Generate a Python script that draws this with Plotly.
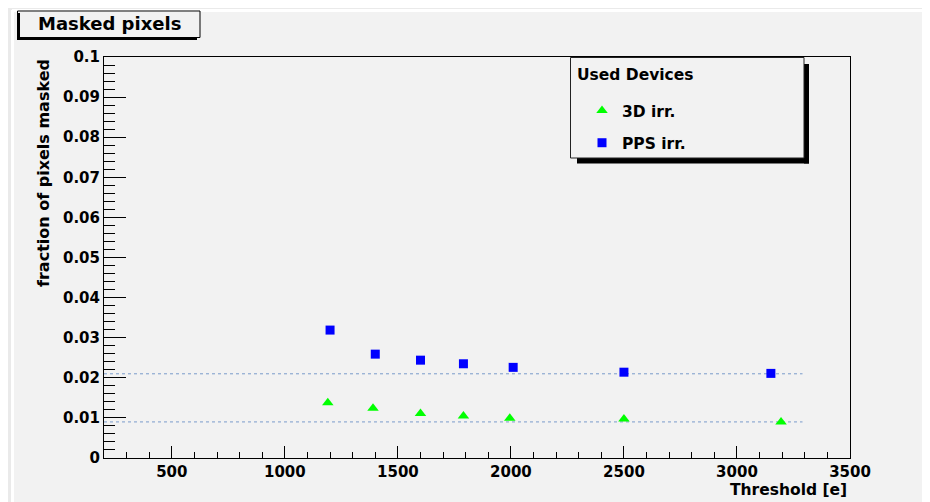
import plotly.graph_objects as go

# ---------------- data ----------------
pps_threshold = [1200, 1400, 1600, 1790, 2010, 2500, 3150]
pps_fraction = [0.0319, 0.0259, 0.0244, 0.0235, 0.0226, 0.0214, 0.0211]

d3_threshold = [1190, 1390, 1600, 1790, 1995, 2500, 3195]
d3_fraction = [0.0138, 0.0124, 0.0111, 0.0105, 0.0099, 0.0097, 0.0090]

fit_x = [200, 3290]
pps_fit_level = [0.0210, 0.0210]
d3_fit_level = [0.0090, 0.0090]

x_range = [200, 3500]
y_range = [0, 0.1]

# ---------------- geometry helpers (viewport pixels -> paper) ----------------
W, H = 930, 502          # browser window
OFF = 8                  # default page body margin
L, R, T, B = 104, 850, 57, 458   # plot frame in window pixels


def px(x):
    return (x - L) / (R - L)


def py(y):
    return (B - y) / (B - T)


FONT = "DejaVu Sans"
fig = go.Figure()

fig.add_trace(go.Scatter(x=fit_x, y=pps_fit_level, mode="lines",
                         line=dict(color="#7a9bcb", width=1, dash="dot"),
                         showlegend=False, hoverinfo="skip"))
fig.add_trace(go.Scatter(x=fit_x, y=d3_fit_level, mode="lines",
                         line=dict(color="#7a9bcb", width=1, dash="dot"),
                         showlegend=False, hoverinfo="skip"))

fig.add_trace(go.Scatter(x=d3_threshold, y=d3_fraction, mode="markers",
                         name="3D irr.", legendgroup="a",
                         marker=dict(symbol="triangle-up", size=10, color="#00ff00")))
fig.add_trace(go.Scatter(x=pps_threshold, y=pps_fraction, mode="markers",
                         name="PPS irr.", legendgroup="b",
                         marker=dict(symbol="square", size=9, color="#0000ff")))

shapes = []
# canvas pad with bevel
shapes.append(dict(type="rect", xref="paper", yref="paper", layer="below",
                   x0=px(12), x1=px(W + 20), y0=py(10), y1=py(H + 20),
                   fillcolor="#f2f2f2", line=dict(width=0)))
shapes.append(dict(type="line", xref="paper", yref="paper", layer="below",
                   x0=px(12), x1=px(W + 20), y0=py(10.5), y1=py(10.5),
                   line=dict(color="#ffffff", width=3)))
shapes.append(dict(type="line", xref="paper", yref="paper", layer="below",
                   x0=px(12.5), x1=px(12.5), y0=py(10), y1=py(H + 20),
                   line=dict(color="#ffffff", width=3)))
# title box
shapes.append(dict(type="rect", xref="paper", yref="paper",
                   x0=px(17), x1=px(20), y0=py(13), y1=py(40),
                   fillcolor="#000000", line=dict(width=0)))
shapes.append(dict(type="rect", xref="paper", yref="paper",
                   x0=px(17), x1=px(197), y0=py(37), y1=py(40),
                   fillcolor="#000000", line=dict(width=0)))
shapes.append(dict(type="rect", xref="paper", yref="paper",
                   x0=px(17.5), x1=px(200), y0=py(11), y1=py(37.5),
                   fillcolor="rgba(0,0,0,0)", line=dict(color="#000000", width=1)))
# legend box
shapes.append(dict(type="rect", xref="paper", yref="paper",
                   x0=px(804), x1=px(809), y0=py(64), y1=py(163.5),
                   fillcolor="#000000", line=dict(width=0)))
shapes.append(dict(type="rect", xref="paper", yref="paper",
                   x0=px(577), x1=px(809), y0=py(158), y1=py(163.5),
                   fillcolor="#000000", line=dict(width=0)))
shapes.append(dict(type="rect", xref="paper", yref="paper",
                   x0=px(570.5), x1=px(804), y0=py(57.5), y1=py(158),
                   fillcolor="#f2f2f2", line=dict(color="#222222", width=1)))

annotations = [
    dict(text="<b>Masked pixels</b>", xref="paper", yref="paper",
         x=px(109), y=py(24), xanchor="center", yanchor="middle", showarrow=False,
         font=dict(family=FONT, size=18, color="#000000")),
    dict(text="<b>fraction of pixels masked</b>", xref="paper", yref="paper",
         x=px(43), y=py(57), xanchor="center", yanchor="top", showarrow=False,
         textangle=-90, font=dict(family=FONT, size=16, color="#000000")),
    dict(text="<b>Threshold [e]</b>", xref="paper", yref="paper",
         x=px(849), y=py(490), xanchor="right", yanchor="middle", showarrow=False,
         font=dict(family=FONT, size=15.5, color="#000000")),
    dict(text="<b>Used Devices</b>", xref="paper", yref="paper",
         x=px(575), y=py(75), xanchor="left", yanchor="middle", showarrow=False,
         font=dict(family=FONT, size=15.5, color="#000000")),
]

fig.update_layout(
    width=W, height=H,
    margin=dict(l=L - OFF, r=W - R + OFF, t=T - OFF, b=H - B + OFF, pad=0),
    paper_bgcolor="#eaeaea",
    plot_bgcolor="rgba(0,0,0,0)",
    shapes=shapes,
    annotations=annotations,
    showlegend=True,
    legend=dict(
        x=px(571), y=py(94), xanchor="left", yanchor="top",
        bgcolor="rgba(0,0,0,0)", borderwidth=0,
        font=dict(family=FONT, size=15.5, color="#000000", weight="bold"),
        traceorder="grouped", tracegroupgap=9, indentation=11,
    ),
    xaxis=dict(
        range=x_range, showgrid=False, zeroline=False,
        showline=True, linecolor="#000000", linewidth=1, mirror=True,
        tickmode="linear", tick0=0, dtick=500,
        ticks="inside", ticklen=12, tickcolor="#000000", tickwidth=1,
        minor=dict(ticks="inside", ticklen=6, dtick=100, tick0=0,
                   tickcolor="#000000", tickwidth=1, showgrid=False),
        tickfont=dict(family=FONT, size=15, color="#000000", weight="bold"),
    ),
    yaxis=dict(
        range=y_range, showgrid=False, zeroline=False,
        showline=True, linecolor="#000000", linewidth=1, mirror=True,
        tickmode="linear", tick0=0, dtick=0.01,
        ticks="inside", ticklen=22, tickcolor="#000000", tickwidth=1,
        minor=dict(ticks="inside", ticklen=11, dtick=0.002, tick0=0,
                   tickcolor="#000000", tickwidth=1, showgrid=False),
        tickfont=dict(family=FONT, size=15, color="#000000", weight="bold"),
    ),
)

fig.write_html("out.html")
